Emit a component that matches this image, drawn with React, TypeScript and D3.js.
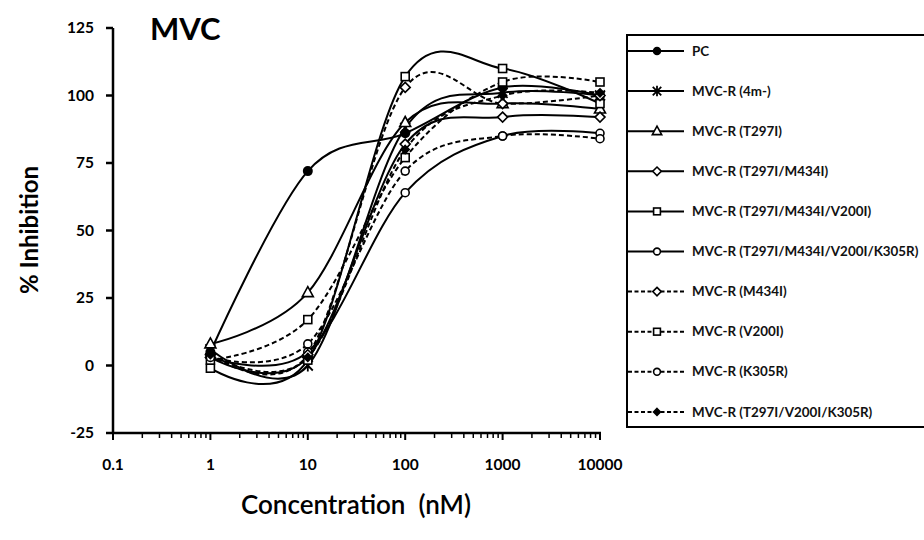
import React, { useEffect, useRef } from 'react';
import * as d3 from 'd3';

// concentrations (nM) and % inhibition per virus
const concentrations = [1, 10, 100, 1000, 10000];
const xTicks = [0.1, 1, 10, 100, 1000, 10000];
const yTicks = [-25, 0, 25, 50, 75, 100, 125];

const pc = [5, 72, 86, 103, 100];
const r4m = [6, 0, 88, 101, 100];
const rT297I = [8, 27, 90, 97, 95];
const rT297IM434I = [3, 3, 82, 92, 92];
const rT297IM434IV200I = [-1, 2, 107, 110, 97];
const rT297IM434IV200IK305R = [3, 5, 64, 85, 86];
const rM434I = [4, 4, 103, 97, 100];
const rV200I = [2, 17, 77, 105, 105];
const rK305R = [3, 8, 72, 85, 84];
const rT297IV200IK305R = [4, 3, 80, 100, 101];

const seriesNames = [
    'PC',
    'MVC-R (4m-)',
    'MVC-R (T297I)',
    'MVC-R (T297I/M434I)',
    'MVC-R (T297I/M434I/V200I)',
    'MVC-R (T297I/M434I/V200I/K305R)',
    'MVC-R (M434I)',
    'MVC-R (V200I)',
    'MVC-R (K305R)',
    'MVC-R (T297I/V200I/K305R)',
];
const seriesValues = [pc, r4m, rT297I, rT297IM434I, rT297IM434IV200I, rT297IM434IV200IK305R, rM434I, rV200I, rK305R, rT297IV200IK305R];
const seriesMarkers = ['dot', 'star', 'triangle', 'diamond', 'square', 'circle', 'diamond', 'square', 'circle', 'fdiamond'];
const seriesDashed = [false, false, false, false, false, false, true, true, true, true];

const FONT = 'Lato, "Open Sans", sans-serif';

function drawMarker(g: any, kind: string, x: number, y: number, k = 1) {
    const sw = 1.6;
    if (kind === 'dot') {
        g.append('circle').attr('cx', x).attr('cy', y).attr('r', 5 * k).attr('fill', '#000');
    } else if (kind === 'circle') {
        g.append('circle').attr('cx', x).attr('cy', y).attr('r', 4 * k)
            .attr('fill', '#fff').attr('stroke', '#000').attr('stroke-width', sw);
    } else if (kind === 'square') {
        g.append('rect').attr('x', x - 4 * k).attr('y', y - 4 * k).attr('width', 8 * k).attr('height', 8 * k)
            .attr('fill', '#fff').attr('stroke', '#000').attr('stroke-width', sw);
    } else if (kind === 'diamond' || kind === 'fdiamond') {
        const s = (kind === 'fdiamond' ? 4 : 5) * k;
        g.append('path').attr('d', `M${x},${y - s}L${x + s},${y}L${x},${y + s}L${x - s},${y}Z`)
            .attr('fill', kind === 'fdiamond' ? '#000' : '#fff').attr('stroke', '#000').attr('stroke-width', sw);
    } else if (kind === 'triangle') {
        g.append('path').attr('d', `M${x},${y - 6 * k}L${x + 5.5 * k},${y + 4 * k}L${x - 5.5 * k},${y + 4 * k}Z`)
            .attr('fill', '#fff').attr('stroke', '#000').attr('stroke-width', sw);
    } else if (kind === 'star') {
        const s = 5 * k;
        g.append('path')
            .attr('d', `M${x - s},${y - s}L${x + s},${y + s}M${x + s},${y - s}L${x - s},${y + s}M${x},${y - s - 1}L${x},${y + s + 1}`)
            .attr('stroke', '#000').attr('stroke-width', 1.8).attr('fill', 'none');
    }
}

function App() {
    const ref = useRef<SVGSVGElement>(null);

    useEffect(() => {
        const svg = d3.select(ref.current);
        svg.selectAll('*').remove();

        const xScale = d3.scaleLog().domain([0.1, 10000]).range([113, 600]);
        const yScale = d3.scaleLinear().domain([-25, 125]).range([433, 28]);

        // title
        svg.append('text').attr('x', 150).attr('y', 40)
            .attr('font-family', FONT).attr('font-weight', 700).attr('font-size', 31)
            .text('MVC');

        // y axis
        const yAxis = svg.append('g');
        yAxis.append('line').attr('x1', 113).attr('x2', 113).attr('y1', yScale(125)).attr('y2', yScale(-25))
            .attr('stroke', '#000').attr('stroke-width', 2.5);
        yTicks.forEach(t => {
            yAxis.append('line').attr('x1', 106).attr('x2', 113).attr('y1', yScale(t)).attr('y2', yScale(t))
                .attr('stroke', '#000').attr('stroke-width', 2.5);
            yAxis.append('text').attr('x', 94).attr('y', yScale(t)).attr('dy', '0.35em')
                .attr('text-anchor', 'end').attr('font-family', FONT).attr('font-weight', 700).attr('font-size', 15.5)
                .text(t);
        });

        // x axis (log, with minor ticks)
        const xAxis = svg.append('g');
        xAxis.append('line').attr('x1', 112).attr('x2', 601).attr('y1', 433).attr('y2', 433)
            .attr('stroke', '#000').attr('stroke-width', 2.5);
        xTicks.forEach((t, i) => {
            xAxis.append('line').attr('x1', xScale(t)).attr('x2', xScale(t)).attr('y1', 433).attr('y2', 440)
                .attr('stroke', '#000').attr('stroke-width', 2);
            xAxis.append('text').attr('x', xScale(t)).attr('y', 470)
                .attr('text-anchor', 'middle').attr('font-family', FONT).attr('font-weight', 700).attr('font-size', 15.5)
                .text(t);
            if (i < xTicks.length - 1) {
                d3.range(2, 10).forEach(m => {
                    xAxis.append('line').attr('x1', xScale(t * m)).attr('x2', xScale(t * m)).attr('y1', 433).attr('y2', 438)
                        .attr('stroke', '#000').attr('stroke-width', 1.5);
                });
            }
        });

        // axis titles
        svg.append('text').attr('transform', 'translate(38,230) rotate(-90)')
            .attr('text-anchor', 'middle').attr('font-family', FONT).attr('font-weight', 700).attr('font-size', 24)
            .text('% Inhibition');
        svg.append('text').attr('x', 356).attr('y', 514)
            .attr('text-anchor', 'middle').attr('font-family', FONT).attr('font-weight', 600).attr('font-size', 26)
            .text('Concentration\u00a0\u00a0(nM)');

        // series
        const line = d3.line<number>()
            .x((d, i) => xScale(concentrations[i]))
            .y(d => yScale(d))
            .curve(d3.curveCardinal.tension(0));

        const plot = svg.append('g');
        seriesValues.forEach((vals, s) => {
            plot.append('path')
                .attr('d', line(vals))
                .attr('fill', 'none')
                .attr('stroke', '#000')
                .attr('stroke-width', 2)
                .attr('stroke-dasharray', seriesDashed[s] ? '5,3' : null);
        });
        seriesValues.forEach((vals, s) => {
            vals.forEach((v, i) => drawMarker(plot, seriesMarkers[s], xScale(concentrations[i]), yScale(v)));
        });

        // legend
        const legend = svg.append('g');
        legend.append('rect').attr('x', 627).attr('y', 35).attr('width', 320).attr('height', 392)
            .attr('fill', '#fff').attr('stroke', '#000').attr('stroke-width', 2);
        seriesNames.forEach((name, s) => {
            const ly = 51 + s * 40.1;
            legend.append('line').attr('x1', 628).attr('x2', 684).attr('y1', ly).attr('y2', ly)
                .attr('stroke', '#000').attr('stroke-width', 2)
                .attr('stroke-dasharray', seriesDashed[s] ? '4,2.5' : null);
            drawMarker(legend, seriesMarkers[s], 657, ly, 0.85);
            legend.append('text').attr('x', 692).attr('y', ly).attr('dy', '0.35em')
                .attr('font-family', FONT).attr('font-weight', 700).attr('font-size', 13.4)
                .attr('fill', '#111')
                .text(name);
        });
    });

    return (
        <svg
            ref={ref}
            width={924}
            height={540}
            style={{ position: 'absolute', left: 0, top: 0, background: '#fff' }}
        ></svg>
    );
}

export default App;
